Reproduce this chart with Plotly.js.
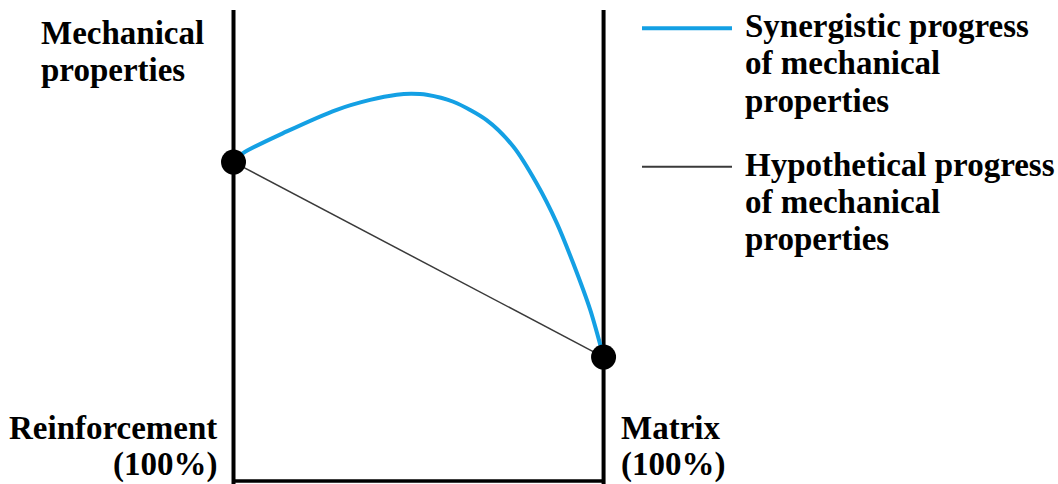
<!DOCTYPE html>
<html>
<head>
<meta charset="utf-8">
<script src="https://cdn.plot.ly/plotly-3.0.1.min.js"></script>
<style>
  html, body { margin: 0; padding: 0; background: #ffffff; }
  #chart { width: 1058px; height: 484px; }
</style>
</head>
<body>
<div id="chart"></div>
<script>
// Share of matrix in the composite (0 = pure reinforcement, 100 = pure matrix)
const matrixShare = [0, 2.6, 14.4, 27.9, 36.9, 44.1, 48.0, 52.2, 59.4, 68.4, 75.6, 81.9, 87.4, 91.8, 96.4, 100];
// Synergistic progress of mechanical properties (relative units)
const synergistic = [67.7, 69.6, 74.2, 78.8, 80.9, 82.0, 82.2, 82.0, 80.5, 76.6, 71.0, 63.2, 54.7, 46.2, 36.3, 26.3];
// Hypothetical (rule of mixtures) progress: straight line between the pure components
const endShare = [0, 100];
const hypothetical = [67.7, 26.3];

const seriesNames = ["Synergistic progress", "Hypothetical progress"];
const axisLabel = ["Mechanical", "properties"];
const leftLabel = ["Reinforcement", "(100%)"];
const rightLabel = ["Matrix", "(100%)"];
const legendLines = [
  ["Synergistic progress", "of mechanical", "properties"],
  ["Hypothetical progress", "of mechanical", "properties"]
];

const W = 1058, H = 484;
const FONT = { family: "Liberation Serif, Times New Roman, serif", size: 33, color: "#000000", weight: 700 };
const BLUE = "#14a0e4";

const traces = [
  {
    x: endShare, y: hypothetical, name: seriesNames[1],
    mode: "lines", line: { color: "#3a3a3a", width: 1.5 },
    showlegend: false, hoverinfo: "skip"
  },
  {
    x: matrixShare, y: synergistic, name: seriesNames[0],
    mode: "lines", line: { color: BLUE, width: 4, shape: "spline", smoothing: 0.8 },
    showlegend: false, hoverinfo: "skip"
  },
  {
    x: endShare, y: hypothetical,
    mode: "markers", marker: { color: "#000000", size: 25 },
    showlegend: false, hoverinfo: "skip"
  }
];

// text lines placed by baseline (pixels from the top)
function textLine(text, px, baseline, anchor) {
  return {
    xref: "paper", yref: "paper",
    x: px / W, y: 1 - (baseline - 0.34 * FONT.size) / H,
    xanchor: anchor, yanchor: "middle",
    text: text, showarrow: false, font: FONT, borderpad: 0
  };
}

const annotations = [];
axisLabel.forEach((t, i) => annotations.push(textLine(t, 40, 44 + i * 37.5, "left")));
leftLabel.forEach((t, i) => annotations.push(textLine(t, 218, 439 + i * 37, "right")));
rightLabel.forEach((t, i) => annotations.push(textLine(t, 620, 439 + i * 37, "left")));
legendLines[0].forEach((t, i) => annotations.push(textLine(t, 744, 37 + i * 37.5, "left")));
legendLines[1].forEach((t, i) => annotations.push(textLine(t, 744, 176.5 + i * 37, "left")));

const frame = { color: "#000000", width: 4 };
const shapes = [
  // left and right component axes, and the base line
  { type: "line", xref: "x", yref: "y", x0: 0, x1: 0, y0: -1, y1: 100, line: frame, layer: "below" },
  { type: "line", xref: "x", yref: "y", x0: 100, x1: 100, y0: -1, y1: 100, line: frame, layer: "below" },
  { type: "line", xref: "x", yref: "y", x0: 0, x1: 100, y0: 0, y1: 0, line: { color: "#000000", width: 3.5 }, layer: "below" },
  // legend samples
  { type: "line", xref: "paper", yref: "paper", x0: 642 / W, x1: 732 / W, y0: 1 - 28.3 / H, y1: 1 - 28.3 / H,
    line: { color: BLUE, width: 4 } },
  { type: "line", xref: "paper", yref: "paper", x0: 642 / W, x1: 732 / W, y0: 1 - 166.7 / H, y1: 1 - 166.7 / H,
    line: { color: "#3a3a3a", width: 2 } }
];

const layout = {
  width: W, height: H,
  margin: { l: 0, r: 0, t: 0, b: 0 },
  paper_bgcolor: "#ffffff", plot_bgcolor: "#ffffff",
  showlegend: false,
  xaxis: { range: [-63.1, 222.8], visible: false, fixedrange: true },
  yaxis: { range: [-0.64, 102.1], visible: false, fixedrange: true },
  shapes: shapes,
  annotations: annotations
};

Plotly.newPlot("chart", traces, layout, { staticPlot: true, displayModeBar: false });
</script>
</body>
</html>
